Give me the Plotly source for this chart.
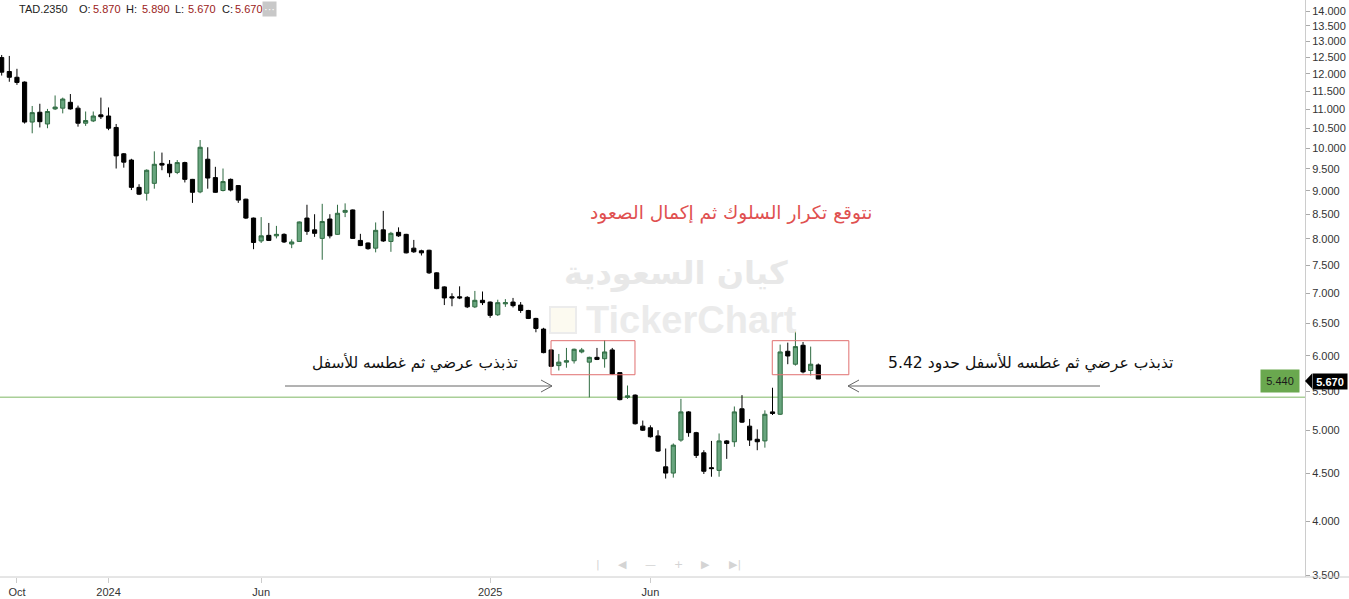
import plotly.graph_objects as go

# ---- data (weekly candles, TAD.2350) ----
opens = [12.49, 12.07, 11.90, 11.76, 10.66, 10.92, 10.61, 11.01, 11.03, 11.19,
         11.03, 10.63, 10.69, 10.85, 10.82, 10.52, 9.86, 9.71, 9.08, 8.95,
         9.17, 9.63, 9.61, 9.42, 9.65, 9.26, 8.98, 9.73, 9.30, 9.01,
         9.26, 9.12, 8.82, 8.42, 7.96, 8.07, 8.06, 8.09, 7.90, 7.95,
         8.42, 8.18, 8.01, 8.40, 8.09, 8.54, 8.59, 7.97, 7.92, 7.82,
         8.18, 7.95, 8.13, 8.09, 7.82, 7.77, 7.78, 7.36, 7.11, 6.94,
         6.94, 6.93, 6.77, 6.88, 6.85, 6.64, 6.82, 6.85, 6.80, 6.71,
         6.58, 6.41, 6.09, 5.86, 5.91, 5.93, 6.06, 5.91, 5.98, 5.96,
         6.09, 5.76, 5.42, 5.45, 5.05, 5.03, 4.93, 4.57, 4.50, 4.88,
         5.23, 4.97, 4.73, 4.56, 4.53, 4.87, 4.86, 5.27, 5.05, 4.89,
         4.87, 5.23, 5.20, 6.07, 5.88, 6.16, 5.79, 5.87]
highs = [12.57, 12.54, 12.15, 11.78, 11.09, 11.15, 11.01, 11.38, 11.32, 11.42,
         11.10, 10.94, 10.94, 11.32, 11.05, 10.61, 9.88, 9.74, 9.15, 9.49,
         9.92, 9.89, 9.71, 9.71, 9.67, 9.27, 10.20, 10.02, 9.55, 9.51,
         9.28, 9.13, 8.83, 8.43, 8.44, 8.32, 8.26, 8.11, 7.99, 8.35,
         8.70, 8.50, 8.72, 8.50, 8.70, 8.73, 8.60, 8.10, 7.93, 8.33,
         8.57, 8.14, 8.23, 8.10, 7.98, 7.79, 7.79, 7.37, 7.12, 7.00,
         7.12, 6.95, 7.04, 7.03, 6.86, 6.89, 6.90, 6.92, 6.85, 6.72,
         6.59, 6.43, 6.10, 6.03, 6.12, 6.11, 6.12, 5.99, 6.12, 6.24,
         6.12, 5.76, 5.58, 5.46, 5.12, 5.06, 5.00, 4.78, 4.84, 5.40,
         5.24, 4.98, 4.76, 4.87, 4.96, 4.88, 5.30, 5.45, 5.14, 5.01,
         5.25, 5.55, 6.17, 6.20, 6.38, 6.21, 6.14, 5.89]
lows = [11.95, 11.77, 11.68, 10.62, 10.37, 10.52, 10.50, 10.98, 10.89, 10.99,
        10.54, 10.56, 10.66, 10.74, 10.45, 9.51, 9.53, 9.02, 8.91, 8.79,
        9.05, 9.47, 9.31, 9.38, 9.19, 8.74, 8.95, 9.05, 8.96, 8.99,
        8.99, 8.74, 8.40, 7.80, 7.92, 7.96, 8.01, 7.92, 7.82, 7.94,
        8.08, 8.04, 7.60, 8.01, 8.08, 8.44, 8.00, 7.86, 7.79, 7.74,
        7.94, 7.75, 8.04, 7.72, 7.73, 7.68, 7.34, 7.07, 6.80, 6.78,
        6.90, 6.75, 6.75, 6.80, 6.59, 6.62, 6.77, 6.76, 6.67, 6.57,
        6.36, 6.04, 5.84, 5.79, 5.83, 5.89, 6.04, 5.42, 5.94, 5.83,
        5.73, 5.38, 5.40, 5.07, 4.99, 4.91, 4.74, 4.44, 4.45, 4.86,
        4.92, 4.67, 4.49, 4.46, 4.46, 4.66, 4.80, 5.09, 4.81, 4.76,
        4.79, 5.19, 5.19, 5.88, 5.86, 5.75, 5.72, 5.67]
closes = [12.05, 11.90, 11.75, 10.66, 10.91, 10.67, 10.94, 11.06, 11.28, 11.01,
          10.63, 10.70, 10.82, 10.80, 10.50, 9.81, 9.66, 9.08, 8.93, 9.47,
          9.61, 9.59, 9.41, 9.65, 9.26, 8.97, 10.02, 9.29, 8.97, 9.21,
          9.02, 8.80, 8.42, 7.93, 8.06, 7.97, 8.09, 7.94, 7.94, 8.34,
          8.15, 8.11, 8.35, 8.06, 8.52, 8.58, 8.01, 7.87, 7.81, 8.17,
          7.96, 8.11, 8.06, 7.73, 7.75, 7.73, 7.36, 7.08, 6.92, 6.92,
          6.92, 6.77, 6.88, 6.84, 6.63, 6.84, 6.84, 6.79, 6.71, 6.58,
          6.42, 6.05, 5.85, 5.91, 5.93, 6.10, 6.09, 5.98, 5.95, 6.06,
          5.74, 5.39, 5.44, 5.08, 5.00, 4.92, 4.75, 4.50, 4.82, 5.23,
          4.97, 4.70, 4.52, 4.55, 4.87, 4.84, 5.23, 5.10, 4.88, 4.86,
          5.20, 5.21, 6.06, 6.00, 6.14, 5.77, 5.88, 5.67]
bar_index = list(range(len(opens)))

x_tick_index = [2, 14, 34, 64, 85]
x_tick_labels = ["Oct", "2024", "Jun", "2025", "Jun"]

y_tick_values = [3.5, 4.0, 4.5, 5.0, 5.5, 6.0, 6.5, 7.0, 7.5, 8.0, 8.5, 9.0,
                 9.5, 10.0, 10.5, 11.0, 11.5, 12.0, 12.5, 13.0, 13.5, 14.0, 14.5]
y_tick_labels = ["3.500", "4.000", "4.500", "5.000", "5.500", "6.000", "6.500",
                 "7.000", "7.500", "8.000", "8.500", "9.000", "9.500", "10.000",
                 "10.500", "11.000", "11.500", "12.000", "12.500", "13.000",
                 "13.500", "14.000", "14.500"]

support_level = 5.42
box_levels = (5.73, 6.23)
box1_index = (71.98, 82.98)
box2_index = (100.97, 111.0)

header = [("TAD.2350", "#222222"), ("O:", "#222222"), ("5.870", "#9b1b1b"),
          ("H:", "#222222"), ("5.890", "#9b1b1b"), ("L:", "#222222"),
          ("5.670", "#9b1b1b"), ("C:", "#222222"), ("5.670", "#9b1b1b")]
header_px = [17, 77, 91, 124, 140, 173, 186, 220, 233]

W, H = 1349, 599
PW, PH = 1305, 577  # plot area in px


def px(xp):
    return xp / PW


def py(yp):
    return 1 - yp / PH


fig = go.Figure()
fig.add_trace(go.Candlestick(
    x=bar_index, open=opens, high=highs, low=lows, close=closes,
    increasing=dict(line=dict(color="#2f6b42", width=1), fillcolor="#68a57e"),
    decreasing=dict(line=dict(color="#000000", width=1), fillcolor="#000000"),
    whiskerwidth=0, showlegend=False, hoverinfo="x+y"))

shapes = []
# support line
shapes.append(dict(type="line", xref="paper", yref="y", x0=0, x1=1,
                   y0=support_level, y1=support_level,
                   line=dict(color="#a9cf98", width=1.5), layer="below"))
# red boxes
for b in (box1_index, box2_index):
    shapes.append(dict(type="rect", xref="x", yref="y", x0=b[0], x1=b[1],
                       y0=box_levels[0], y1=box_levels[1],
                       line=dict(color="#e07070", width=1), fillcolor="rgba(0,0,0,0)"))
# arrows (open chevrons)
arrow_col = "#666666"
ay = py(386)
shapes += [
    dict(type="line", xref="paper", yref="paper", x0=px(285), x1=px(552), y0=ay, y1=ay,
         line=dict(color=arrow_col, width=1)),
    dict(type="line", xref="paper", yref="paper", x0=px(541), x1=px(552), y0=py(380), y1=ay,
         line=dict(color=arrow_col, width=1)),
    dict(type="line", xref="paper", yref="paper", x0=px(541), x1=px(552), y0=py(392), y1=ay,
         line=dict(color=arrow_col, width=1)),
    dict(type="line", xref="paper", yref="paper", x0=px(848), x1=px(1100), y0=ay, y1=ay,
         line=dict(color=arrow_col, width=1)),
    dict(type="line", xref="paper", yref="paper", x0=px(859), x1=px(848), y0=py(380), y1=ay,
         line=dict(color=arrow_col, width=1)),
    dict(type="line", xref="paper", yref="paper", x0=px(859), x1=px(848), y0=py(392), y1=ay,
         line=dict(color=arrow_col, width=1)),
]
# bottom axis line extended under price axis
shapes.append(dict(type="line", xref="paper", yref="paper", x0=0, x1=W / PW, y0=0, y1=0,
                   line=dict(color="#cccccc", width=1)))
# last price pointer
shapes.append(dict(type="path", xref="paper", yref="paper",
                   path=f"M {px(1305)} {py(381)} L {px(1312)} {py(373.5)} L {px(1312)} {py(388.5)} Z",
                   fillcolor="#000000", line=dict(width=0)))
# watermark logo square
shapes.append(dict(type="rect", xref="paper", yref="paper", x0=px(550), x1=px(576),
                   y0=py(333), y1=py(307), line=dict(color="#ececec", width=2),
                   fillcolor="rgba(250,245,225,0.5)", layer="below"))

ann = []


def note(text, xp, yp, size, color, family="DejaVu Sans", xanchor="center", **kw):
    d = dict(text=text, xref="paper", yref="paper", x=px(xp), y=py(yp),
             xanchor=xanchor, yanchor="middle", showarrow=False,
             font=dict(family=family, size=size, color=color))
    d.update(kw)
    ann.append(d)


# header
for (t, c), xp in zip(header, header_px):
    note(t, xp, 9, 11, c, family="Liberation Sans, Arial", xanchor="left")
note("···", 262, 9, 11, "#ffffff", family="Liberation Sans, Arial", xanchor="left",
     bgcolor="#c8c8c8", width=13, height=14, borderpad=0)
# watermarks
note("<b>كيان السعودية</b>", 676, 273, 32, "#e8e8e8")
note("<b>TickerChart</b>", 691, 320, 38, "#ebebeb", family="Liberation Sans, Arial")
# commentary
note("نتوقع تكرار السلوك ثم إكمال الصعود", 731, 213, 18.6, "#e05050")
note("تذبذب عرضي ثم غطسه للأسفل", 415, 363, 15.4, "#111111")
note("تذبذب عرضي ثم غطسه للأسفل حدود 5.42", 1030, 363, 15.6, "#111111")
# level labels
note("5.440", 1300, 381, 11, "#1a1a1a", family="Liberation Sans, Arial", xanchor="right",
     bgcolor="#6aa84f", width=38, height=22, borderpad=0)
note("<b>5.670</b>", 1312, 381, 11, "#ffffff", family="Liberation Sans, Arial", xanchor="left",
     bgcolor="#000000", width=34, height=15, borderpad=0)
# navigation icons
for t, xp in [("|", 598), ("◀", 622), ("—", 650), ("+", 678), ("▶", 706), ("▶|", 735)]:
    note(t, xp, 564, 11, "#d4d4d4")

fig.update_layout(
    width=W, height=H, autosize=False,
    margin=dict(l=0, r=W - PW, t=0, b=H - PH, pad=0),
    paper_bgcolor="#ffffff", plot_bgcolor="#ffffff",
    boxgap=0.22,
    shapes=shapes, annotations=ann,
    xaxis=dict(range=[-0.22, 170.77], rangeslider=dict(visible=False),
               tickmode="array", tickvals=x_tick_index, ticktext=x_tick_labels,
               showgrid=False, zeroline=False, showline=False,
               ticks="outside", ticklen=5, tickcolor="#cccccc",
               tickfont=dict(family="Liberation Sans Narrow, Arial Narrow, Liberation Sans", size=11, color="#333333")),
    yaxis=dict(type="log", side="right", range=[0.54233, 1.15800],
               tickmode="array", tickvals=y_tick_values, ticktext=y_tick_labels,
               showgrid=False, zeroline=False, showline=True, linecolor="#cccccc",
               ticks="outside", ticklen=4, tickcolor="#aaaaaa",
               tickfont=dict(family="Liberation Sans, Arial", size=11, color="#333333")),
    hovermode=False,
)

fig.write_html("out.html", config={"displayModeBar": False},
               post_script="document.body.style.margin='0';document.body.style.padding='0';"
                           "document.body.style.overflow='hidden';")
